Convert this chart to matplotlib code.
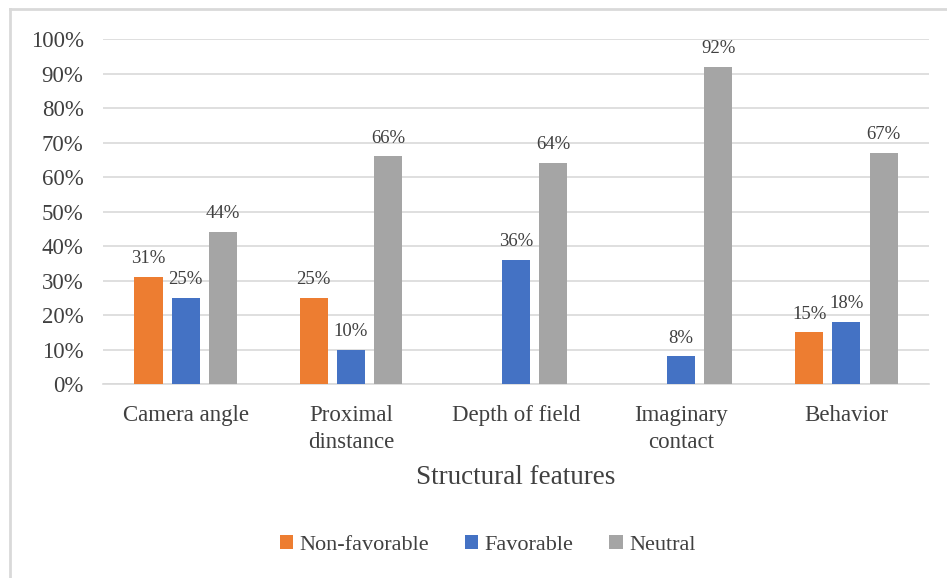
import numpy as np
import matplotlib.pyplot as plt
from matplotlib.lines import Line2D

# Share of structural features rated in each direction
features = ["Camera angle", "Proximal\ndinstance", "Depth of field",
            "Imaginary\ncontact", "Behavior"]
non_favorable = [31, 25, None, None, 15]
favorable = [25, 10, 36, 8, 18]
neutral = [44, 66, 64, 92, 67]

series = [("Non-favorable", non_favorable, "#ED7D31"),
          ("Favorable", favorable, "#4472C4"),
          ("Neutral", neutral, "#A5A5A5")]

plt.rcParams['font.family'] = ['Liberation Serif', 'DejaVu Serif']
txt = "#404040"

fig = plt.figure(figsize=(9.47, 5.78), dpi=100)
ax = fig.add_axes([0.1088, 0.3356, 0.8722, 0.5969])

x = np.arange(len(features))
width = 0.17
offsets = [-0.225, 0.0, 0.225]

for (name, vals, color), off in zip(series, offsets):
    xs = [xi + off for xi, v in zip(x, vals) if v is not None]
    hs = [v / 100 for v in vals if v is not None]
    bars = ax.bar(xs, hs, width, color=color, label=name, zorder=3)
    for b, v in zip(bars, [v for v in vals if v is not None]):
        ax.annotate(f"{v}%", (b.get_x() + b.get_width() / 2, b.get_height()),
                    xytext=(0, 7), textcoords="offset points",
                    ha="center", va="bottom", fontsize=13.5, color=txt)

ax.set_xlim(-0.5, len(features) - 0.5)
ax.set_ylim(0, 1)
ax.set_yticks(np.arange(0, 1.01, 0.1))
ax.set_yticklabels([f"{int(round(t * 100))}%" for t in np.arange(0, 1.01, 0.1)])
ax.set_xticks(x)
ax.set_xticklabels(features, linespacing=1.38)
ax.tick_params(axis="both", length=0, labelsize=16.5, labelcolor=txt)
ax.tick_params(axis="x", pad=15)
ax.tick_params(axis="y", pad=14)
ax.grid(axis="y", color="#D9D9D9", linewidth=1.2, zorder=0)
for s in ["top", "right", "left"]:
    ax.spines[s].set_visible(False)
ax.spines["bottom"].set_color("#D9D9D9")
ax.spines["bottom"].set_linewidth(1.2)

ax.set_xlabel("Structural features", fontsize=19.5, color=txt, labelpad=9)

fig.legend(loc="center", bbox_to_anchor=(0.515, 0.057), ncol=3, frameon=False,
           fontsize=16, labelcolor=txt, handlelength=0.6, handleheight=0.6,
           handletextpad=0.3, columnspacing=1.6)

# light frame around the chart area
fig.add_artist(Line2D([10 / 947, 10 / 947], [0, 1 - 9 / 578],
                      color="#D9D9D9", linewidth=2, transform=fig.transFigure))
fig.add_artist(Line2D([10 / 947, 1], [1 - 9 / 578, 1 - 9 / 578],
                      color="#D9D9D9", linewidth=2, transform=fig.transFigure))

fig.savefig("out.png", dpi=100)
